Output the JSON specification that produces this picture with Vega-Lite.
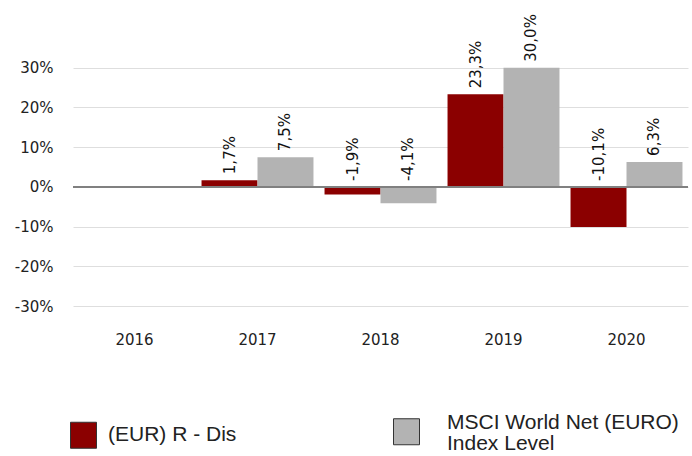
{
  "$schema": "https://vega.github.io/schema/vega-lite/v6.json",
  "width": 615,
  "height": 298,
  "autosize": "none",
  "padding": {"left": 73, "top": 28, "right": 4, "bottom": 130},
  "config": {
    "view": {"stroke": null},
    "locale": {"number": {"decimal": ",", "thousands": ".", "grouping": [3], "currency": ["", " €"], "minus": "-"}}
  },
  "data": {
    "values": [
      {"year": "2017", "series": "(EUR) R - Dis", "value": 0.017},
      {"year": "2017", "series": "MSCI World Net (EURO) Index Level", "value": 0.075},
      {"year": "2018", "series": "(EUR) R - Dis", "value": -0.019},
      {"year": "2018", "series": "MSCI World Net (EURO) Index Level", "value": -0.041},
      {"year": "2019", "series": "(EUR) R - Dis", "value": 0.233},
      {"year": "2019", "series": "MSCI World Net (EURO) Index Level", "value": 0.3},
      {"year": "2020", "series": "(EUR) R - Dis", "value": -0.101},
      {"year": "2020", "series": "MSCI World Net (EURO) Index Level", "value": 0.063}
    ]
  },
  "layer": [
    {
      "mark": {"type": "bar"},
      "encoding": {
        "x": {
          "field": "year", "type": "nominal",
          "scale": {"domain": ["2016", "2017", "2018", "2019", "2020"], "paddingInner": 0.09, "paddingOuter": 0.045},
          "axis": {"title": null, "domain": false, "ticks": false, "labelAngle": 0, "labelPadding": 6, "labelFont": "DejaVu Sans", "labelFontSize": 15, "labelColor": "#222"}
        },
        "xOffset": {
          "field": "series", "type": "nominal",
          "sort": ["(EUR) R - Dis", "MSCI World Net (EURO) Index Level"],
          "scale": {"paddingInner": 0, "paddingOuter": 0}
        },
        "y": {
          "field": "value", "type": "quantitative",
          "scale": {"domain": [-0.35, 0.4], "nice": false, "zero": false},
          "axis": {"title": null, "values": [-0.3, -0.2, -0.1, 0, 0.1, 0.2, 0.3], "format": ".0%", "domain": false, "ticks": false, "grid": true, "gridColor": "#dedede", "gridWidth": 1, "labelPadding": 20, "labelFont": "DejaVu Sans", "labelFontSize": 15, "labelColor": "#222"}
        },
        "color": {
          "field": "series", "type": "nominal",
          "sort": ["(EUR) R - Dis", "MSCI World Net (EURO) Index Level"],
          "scale": {"domain": ["(EUR) R - Dis", "MSCI World Net (EURO) Index Level"], "range": ["#8b0000", "#b3b3b3"]},
          "legend": {
            "title": null, "orient": "none", "legendX": -3, "legendY": 390,
            "direction": "horizontal", "columns": 2, "columnPadding": 154, "padding": 0,
            "symbolType": "square", "symbolSize": 676, "symbolStrokeColor": "#333", "symbolStrokeWidth": 1, "symbolOpacity": 1,
            "labelFont": "Liberation Sans", "labelFontSize": 21, "labelColor": "#222", "labelOffset": 11, "labelLimit": 400,
            "labelExpr": "datum.label == 'MSCI World Net (EURO) Index Level' ? ['MSCI World Net (EURO)', 'Index Level'] : datum.label",
            "encode": {
              "labels": {
                "update": {
                  "lineHeight": {"value": 21},
                  "dx": {"signal": "datum.value == 'MSCI World Net (EURO) Index Level' ? 16 : 0"},
                  "dy": {"signal": "datum.value == 'MSCI World Net (EURO) Index Level' ? -9 : 0"}
                }
              }
            }
          }
        }
      }
    },
    {
      "mark": {"type": "rule", "color": "#808080", "strokeWidth": 2},
      "encoding": {"y": {"datum": 0}}
    },
    {
      "transform": [{"calculate": "max(datum.value, 0)", "as": "labelY"}],
      "mark": {"type": "text", "angle": 270, "align": "left", "baseline": "middle", "dx": 6, "font": "DejaVu Sans", "fontSize": 15, "color": "#111"},
      "encoding": {
        "x": {"field": "year", "type": "nominal"},
        "xOffset": {"field": "series", "type": "nominal", "sort": ["(EUR) R - Dis", "MSCI World Net (EURO) Index Level"]},
        "y": {"field": "labelY", "type": "quantitative"},
        "text": {"field": "value", "type": "quantitative", "format": ".1%"}
      }
    }
  ]
}
